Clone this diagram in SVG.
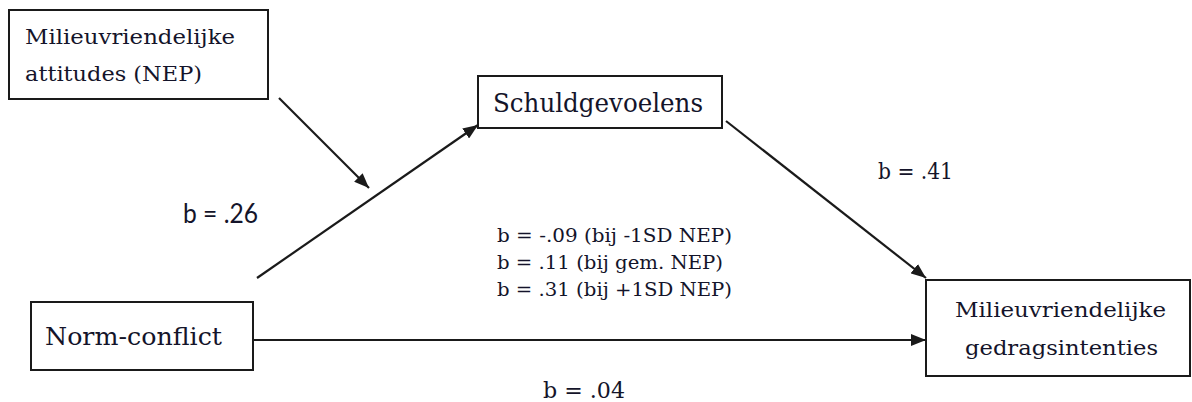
<svg xmlns="http://www.w3.org/2000/svg" width="1192" height="402" viewBox="0 0 1192 402">
  <style>
    .box { fill: #ffffff; stroke: #1a1a1a; stroke-width: 2; }
    .serif { font-family: "DejaVu Serif", "Liberation Serif", serif; fill: #14142a; }
    .sans { font-family: "Lato", "Liberation Sans", sans-serif; fill: #14142a; }
    .conn { stroke: #1a1a1a; stroke-width: 2.2; fill: none; marker-end: url(#arrow); }
  </style>
  <defs>
    <marker id="arrow" markerUnits="userSpaceOnUse" markerWidth="15" markerHeight="12" refX="15" refY="6" orient="auto">
      <path d="M0,0 L15,6 L0,12 z" fill="#1a1a1a"/>
    </marker>
  </defs>
  <rect width="1192" height="402" fill="#ffffff"/>

  <g id="connectors">
    <line class="conn" x1="279" y1="98" x2="369" y2="188"/>
    <line class="conn" x1="257" y1="278" x2="478" y2="125"/>
    <line class="conn" x1="726" y1="121" x2="926" y2="278"/>
    <line class="conn" x1="254" y1="340" x2="926" y2="340"/>
  </g>

  <g id="node-nep">
    <rect class="box" x="9" y="10" width="259" height="89"/>
    <text class="serif" x="25" y="44" font-size="21" textLength="210" lengthAdjust="spacingAndGlyphs">Milieuvriendelijke</text>
    <text class="serif" x="25" y="81" font-size="21" textLength="177" lengthAdjust="spacingAndGlyphs">attitudes (NEP)</text>
  </g>

  <g id="node-schuld">
    <rect class="box" x="478" y="76" width="244" height="52"/>
    <text class="serif" x="493" y="112" font-size="26" textLength="210" lengthAdjust="spacingAndGlyphs">Schuldgevoelens</text>
  </g>

  <g id="node-norm">
    <rect class="box" x="31" y="302" width="222" height="68"/>
    <text class="serif" x="45" y="345" font-size="25" textLength="177" lengthAdjust="spacingAndGlyphs">Norm-conflict</text>
  </g>

  <g id="node-outcome">
    <rect class="box" x="926" y="280" width="264" height="96"/>
    <text class="serif" x="955" y="317" font-size="21" textLength="211" lengthAdjust="spacingAndGlyphs">Milieuvriendelijke</text>
    <text class="serif" x="965" y="355" font-size="21" textLength="193" lengthAdjust="spacingAndGlyphs">gedragsintenties</text>
  </g>

  <g id="labels">
    <text class="sans" x="183" y="223" font-size="26" textLength="75" lengthAdjust="spacingAndGlyphs">b = .26</text>
    <text class="serif" x="878" y="179" font-size="22" textLength="75" lengthAdjust="spacingAndGlyphs">b = .41</text>
    <text class="serif" x="497" y="242" font-size="18" textLength="235" lengthAdjust="spacingAndGlyphs">b = -.09 (bij -1SD NEP)</text>
    <text class="serif" x="497" y="269" font-size="18" textLength="226" lengthAdjust="spacingAndGlyphs">b = .11 (bij gem. NEP)</text>
    <text class="serif" x="497" y="296" font-size="18" textLength="235" lengthAdjust="spacingAndGlyphs">b = .31 (bij +1SD NEP)</text>
    <text class="serif" x="543" y="398" font-size="23" textLength="82" lengthAdjust="spacingAndGlyphs">b = .04</text>
  </g>
</svg>
